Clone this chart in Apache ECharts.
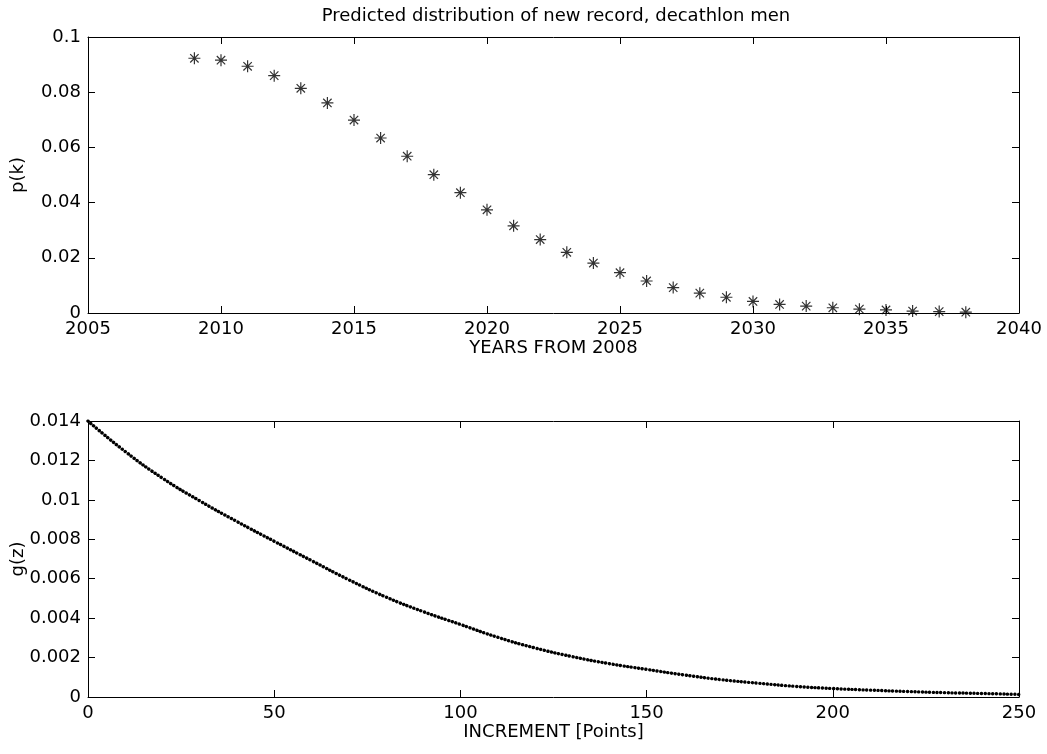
<!DOCTYPE html>
<html>
<head>
<meta charset="utf-8">
<script src="https://cdn.jsdelivr.net/npm/echarts@6/dist/echarts.min.js"></script>
<style>
  html, body { margin: 0; padding: 0; background: #fff; }
  #main { width: 1047px; height: 754px; }
</style>
</head>
<body>
<div id="main"></div>
<script>
// top panel: predicted probability of a new record in year k
var years = [2009, 2010, 2011, 2012, 2013, 2014, 2015, 2016, 2017, 2018,
             2019, 2020, 2021, 2022, 2023, 2024, 2025, 2026, 2027, 2028,
             2029, 2030, 2031, 2032, 2033, 2034, 2035, 2036, 2037, 2038];
var pk = [0.0923, 0.0916, 0.0894, 0.0860, 0.0814, 0.0761, 0.0699, 0.0634, 0.0568, 0.0501,
          0.0436, 0.0374, 0.0316, 0.0266, 0.0220, 0.0181, 0.0146, 0.0116, 0.0092, 0.0072,
          0.0057, 0.0042, 0.0031, 0.0025, 0.0019, 0.0014, 0.0011, 0.0007, 0.0005, 0.0003];

// bottom panel: density of the record increment
var increments = [0, 10, 20, 30, 40, 50, 60, 70, 80, 90, 100, 110, 120,
                  130, 140, 150, 160, 170, 180, 190, 200, 210, 220, 230, 240, 250];
var gz = [0.01400, 0.01245, 0.01110, 0.00995, 0.00890, 0.00790, 0.00692, 0.00595, 0.00507,
          0.00433, 0.00368, 0.00303, 0.00249, 0.00205, 0.00169, 0.00140, 0.00112, 0.00088,
          0.00070, 0.00054, 0.00043, 0.00035, 0.00028, 0.00022, 0.00018, 0.00013];

var FONT = "'DejaVu Sans', 'Liberation Sans', sans-serif";

var chart = echarts.init(document.getElementById('main'));

function pairs(xs, ys) {
  return xs.map(function (x, i) { return [x, ys[i]]; });
}

// one side of the box around a panel; labels only on bottom / left
function boxAxis(grid, pos, min, max, step, labels, name, fmt, gap) {
  return {
    type: 'value',
    gridIndex: grid,
    position: pos,
    min: min, max: max, interval: step,
    name: name || '',
    nameLocation: 'middle',
    nameGap: gap || 26,
    nameMoveOverlap: false,
    nameTextStyle: { fontFamily: FONT, fontSize: 18, color: '#000' },
    axisLine: { show: true, onZero: false, lineStyle: { color: '#000', width: 1 } },
    axisTick: { show: true, inside: true, length: 7, lineStyle: { color: '#000' } },
    axisLabel: {
      show: labels, margin: 7, color: '#000', fontFamily: FONT, fontSize: 18,
      formatter: fmt
    },
    splitLine: { show: false }
  };
}

var yearFmt = function (v) { return String(v); };
var numFmt = function (v) { return String(+v.toFixed(4)); };

var option = {
  animation: false,
  backgroundColor: '#fff',
  title: {
    text: 'Predicted distribution of new record, decathlon men',
    left: 551, top: 2, textAlign: 'center',
    textStyle: { fontFamily: FONT, fontSize: 18, fontWeight: 'normal', color: '#000' }
  },
  grid: [
    { left: 88, top: 37, width: 931, height: 276, containLabel: false, outerBoundsMode: 'none' },
    { left: 88, top: 421, width: 931, height: 276, containLabel: false, outerBoundsMode: 'none' }
  ],
  xAxis: [
    boxAxis(0, 'bottom', 2005, 2040, 5, true, 'YEARS FROM 2008', yearFmt, 26),
    boxAxis(0, 'top', 2005, 2040, 5, false),
    boxAxis(1, 'bottom', 0, 250, 50, true, 'INCREMENT [Points]', yearFmt, 26),
    boxAxis(1, 'top', 0, 250, 50, false)
  ],
  yAxis: [
    boxAxis(0, 'left', 0, 0.1, 0.02, true, 'p(k)', numFmt, 61),
    boxAxis(0, 'right', 0, 0.1, 0.02, false),
    boxAxis(1, 'left', 0, 0.014, 0.002, true, 'g(z)', numFmt, 61),
    boxAxis(1, 'right', 0, 0.014, 0.002, false)
  ],
  series: [
    {
      type: 'scatter',
      xAxisIndex: 0, yAxisIndex: 0,
      data: pairs(years, pk),
      symbol: 'path://M0,-1L0,1M-1,0L1,0M-0.7,-0.7L0.7,0.7M-0.7,0.7L0.7,-0.7',
      symbolSize: 12,
      itemStyle: { color: 'rgba(0,0,0,0)', borderColor: '#000', borderWidth: 1.2 }
    },
    {
      type: 'line',
      xAxisIndex: 2, yAxisIndex: 2,
      data: pairs(increments, gz),
      smooth: 0.5,
      showSymbol: false,
      lineStyle: { color: '#000', width: 3.4, type: [0.1, 3.6], cap: 'round' }
    }
  ]
};

chart.setOption(option);
</script>
</body>
</html>
